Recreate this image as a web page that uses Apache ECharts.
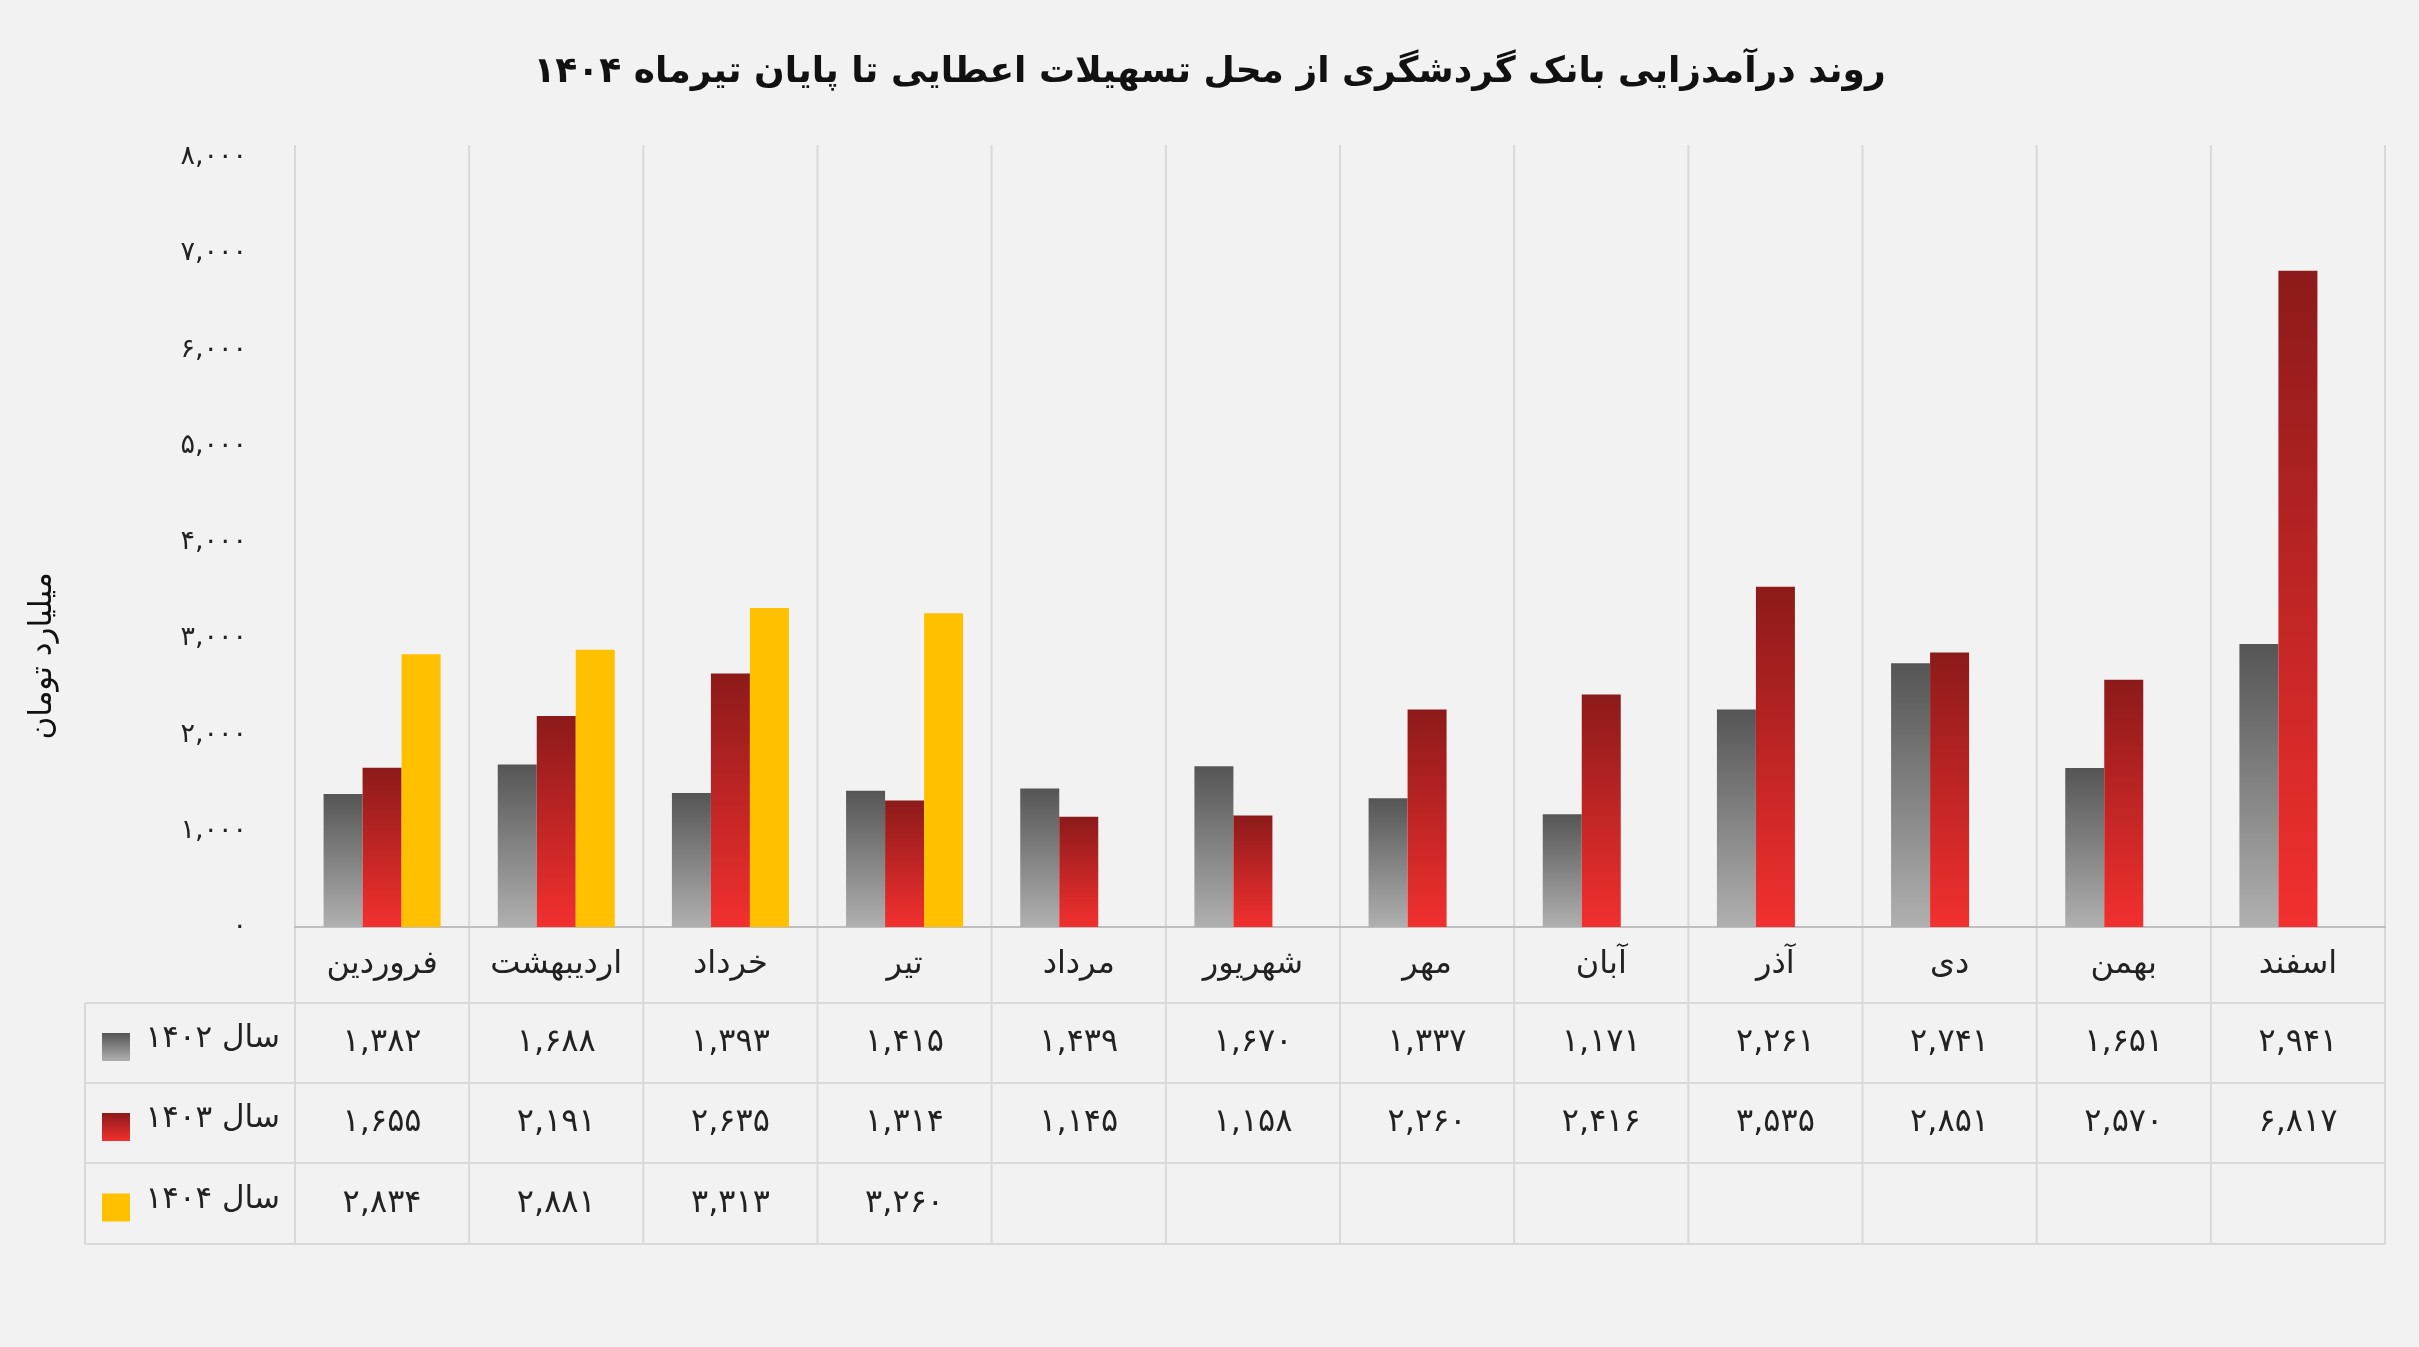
<!DOCTYPE html>
<html><head><meta charset="utf-8">
<script src="https://cdn.jsdelivr.net/npm/echarts@6/dist/echarts.min.js"></script>
<style>html,body{margin:0;padding:0;background:#f2f2f2}#c{width:2419px;height:1347px}</style>
</head><body><div id="c"></div>
<script>
const months = ['فروردین','اردیبهشت','خرداد','تیر','مرداد','شهریور','مهر','آبان','آذر','دی','بهمن','اسفند'];
const y1402 = [1382,1688,1393,1415,1439,1670,1337,1171,2261,2741,1651,2941];
const y1403 = [1655,2191,2635,1314,1145,1158,2260,2416,3535,2851,2570,6817];
const y1404 = [2834,2881,3313,3260];
const seriesNames = ['سال ۱۴۰۲','سال ۱۴۰۳','سال ۱۴۰۴'];

const FONT = 'DejaVu Sans';
const fa = n => n.toLocaleString('en-US').replace(/\d/g, d => '۰۱۲۳۴۵۶۷۸۹'[d]);
const grad = (a, b) => new echarts.graphic.LinearGradient(0,0,0,1,[{offset:0,color:a},{offset:1,color:b}]);
const colors = [grad('#555555','#b0b0b0'), grad('#8c1a1a','#f2302f'), '#ffc000'];

const chart = echarts.init(document.getElementById('c'));
const L = 295, R = 2385, T = 157, B = 927;
const rowY = [927, 1003, 1083, 1163, 1244];
const tableLeft = 85;

chart.setOption({
  backgroundColor: '#f2f2f2',
  animation: false,
  title: {text: 'روند درآمدزایی بانک گردشگری از محل تسهیلات اعطایی تا پایان تیرماه ۱۴۰۴', left: 'center', top: 50,
    textStyle: {fontFamily: FONT, fontSize: 36, fontWeight: 'bold', color: '#111'}},
  grid: {left: L, right: 2419 - R, top: T, bottom: 1347 - B},
  xAxis: {type: 'category', data: months, axisTick: {show: false},
    axisLine: {lineStyle: {color: '#bfbfbf', width: 2}},
    axisLabel: {show: false},
    splitLine: {show: false}},
  yAxis: {type: 'value', min: 0, max: 8000, interval: 1000, splitLine: {show: false},
    axisLabel: {formatter: v => fa(v), fontFamily: FONT, fontSize: 27, color: '#222', margin: 48}},
  series: [y1402, y1403, y1404].map((d, i) => ({
    name: seriesNames[i], type: 'bar', data: d, barWidth: 39, barGap: '0%',
    itemStyle: {color: colors[i]}
  }))
});

const g = [];
const line = (x1,y1,x2,y2) => g.push({type:'line', z:-1, shape:{x1,y1,x2,y2}, style:{stroke:'#d9d9d9', lineWidth:2}, silent:true});
const txt = (x,y,s,size,align) => g.push({type:'text', x, y, style:{text:s, fontFamily:FONT, fontSize:size, fill:'#222', align:align||'center', verticalAlign:'middle'}});
const step = (R - L) / months.length;
for (let k = 0; k <= months.length; k++) line(L + k*step, T - 12, L + k*step, rowY[4]);
line(tableLeft, rowY[1], tableLeft, rowY[4]);
for (let r = 1; r <= 4; r++) line(tableLeft, rowY[r], R, rowY[r]);
months.forEach((m, i) => {
  const cx = chart.convertToPixel({xAxisIndex: 0}, i);
  txt(cx, (rowY[0]+rowY[1])/2, m, 32);
  [y1402, y1403, y1404].forEach((arr, s) => {
    if (arr[i] != null) txt(cx, (rowY[s+1]+rowY[s+2])/2, fa(arr[i]), 32);
  });
});
seriesNames.forEach((n, s) => {
  const cy = (rowY[s+1]+rowY[s+2])/2;
  g.push({type:'rect', shape:{x:102, y:cy-10, width:28, height:28}, style:{fill:colors[s]}});
  txt(280, cy - 4, n, 31, 'right');
});
g.push({type:'text', x:43, y:656, rotation:Math.PI/2, style:{text:'میلیارد تومان', fontFamily:FONT, fontSize:31, fill:'#111', align:'center', verticalAlign:'middle'}});
chart.setOption({graphic: g});
</script></body></html>
